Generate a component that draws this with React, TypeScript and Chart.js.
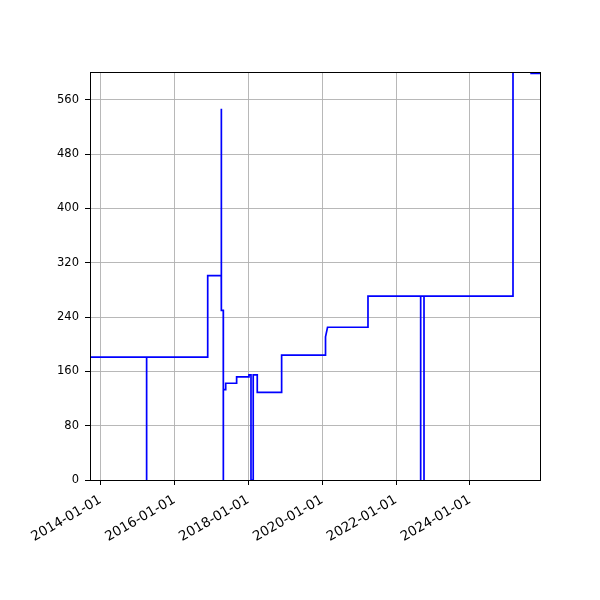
import React, { useEffect, useRef } from "react";
import { Chart, registerables } from "chart.js";

Chart.register(...registerables);

// Step series: dates (ISO) and values
const dates: string[] = [
  "2013-09-19", "2015-04-02", "2015-04-02", "2015-04-02",
  "2016-11-26", "2016-11-26", "2017-04-09", "2017-04-09",
  "2017-04-11", "2017-04-29", "2017-04-29", "2017-04-30",
  "2017-04-30", "2017-05-23", "2017-05-23", "2017-09-08",
  "2017-09-08", "2018-01-08", "2018-01-08", "2018-01-28",
  "2018-01-28", "2018-02-19", "2018-02-19", "2018-03-31",
  "2018-03-31", "2018-11-27", "2018-11-27", "2020-02-04",
  "2020-02-04", "2020-02-24", "2021-03-30", "2021-03-30",
  "2022-09-02", "2022-09-02", "2022-09-02", "2022-10-05",
  "2022-10-05", "2022-10-05", "2025-03-03", "2025-03-03",
  "2025-08-29", "2025-08-29", "2025-11-25",
];
const values: number[] = [
  181, 181, 0, 181,
  181, 301, 301, 547,
  250, 250, 0, 0,
  133, 133, 142.5, 142.5,
  152, 152, 155, 155,
  0, 0, 155, 155,
  129, 129, 184, 184,
  211, 225, 225, 271,
  271, 0, 271, 271,
  0, 271, 271, 720,
  720, 599, 599,
];

const xTickLabels: string[] = [
  "2014-01-01", "2016-01-01", "2018-01-01", "2020-01-01", "2022-01-01", "2024-01-01",
];
const yTicks: number[] = [0, 80, 160, 240, 320, 400, 480, 560];
const xMinDate = "2013-09-19";
const xMaxDate = "2025-11-25";
const yMin = 0;
const yMax = 601;

const toMs = (s: string) => {
  const [y, m, d] = s.split("-").map(Number);
  return Date.UTC(y, m - 1, d);
};
const fmt = (ms: number) => {
  const d = new Date(ms);
  const p = (n: number) => String(n).padStart(2, "0");
  return `${d.getUTCFullYear()}-${p(d.getUTCMonth() + 1)}-${p(d.getUTCDate())}`;
};

const FONT = "DejaVu Sans";

export default function App() {
  const ref = useRef<HTMLCanvasElement | null>(null);
  useEffect(() => {
    if (!ref.current) return;
    const frame = {
      id: "frame",
      afterDraw(chart: any) {
        const { ctx, chartArea: a } = chart;
        ctx.save();
        ctx.strokeStyle = "#000";
        ctx.lineWidth = 1;
        ctx.strokeRect(Math.round(a.left) + 0.5, Math.round(a.top) + 0.5, Math.round(a.right - a.left), Math.round(a.bottom - a.top));
        ctx.restore();
      },
    };
    const chart = new Chart(ref.current, {
      type: "line",
      data: {
        datasets: [
          {
            data: dates.map((d, i) => ({ x: toMs(d), y: values[i] })),
            borderColor: "#0000ff",
            borderWidth: 1.7,
            pointRadius: 0,
            fill: false,
            tension: 0,
          },
        ],
      },
      options: {
        animation: false,
        responsive: false,
        devicePixelRatio: 1,
        layout: { padding: { top: 72, right: 60, left: 0, bottom: 0 } },
        plugins: { legend: { display: false }, tooltip: { enabled: false } },
        scales: {
          x: {
            type: "linear",
            min: toMs(xMinDate),
            max: toMs(xMaxDate),
            afterFit: (s: any) => { s.height = 120; },
            afterBuildTicks: (s: any) => { s.ticks = xTickLabels.map((l) => ({ value: toMs(l) })); },
            ticks: {
              callback: (v: any) => fmt(Number(v)),
              maxRotation: 30,
              minRotation: 30,
              autoSkip: false,
              color: "#000",
              padding: 7,
              font: { family: FONT, size: 13.5 },
            },
            grid: { color: "#b0b0b0", lineWidth: 0.9, tickColor: "#000", tickLength: 5, tickWidth: 1 },
            border: { color: "#000", width: 1 },
          },
          y: {
            type: "linear",
            min: yMin,
            max: yMax,
            afterFit: (s: any) => { s.width = 90; },
            afterBuildTicks: (s: any) => { s.ticks = yTicks.map((v) => ({ value: v })); },
            ticks: {
              color: "#000",
              padding: 6,
              font: { family: FONT, size: 11.5 },
            },
            grid: { color: "#b0b0b0", lineWidth: 0.9, tickColor: "#000", tickLength: 5, tickWidth: 1 },
            border: { color: "#000", width: 1 },
          },
        },
      },
      plugins: [frame],
    } as any);
    return () => chart.destroy();
  }, []);
  return (
    <div style={{ position: "fixed", left: 0, top: 0, width: 600, height: 600, background: "#fff" }}>
      <canvas ref={ref} width={600} height={600} style={{ width: 600, height: 600 }} />
    </div>
  );
}
